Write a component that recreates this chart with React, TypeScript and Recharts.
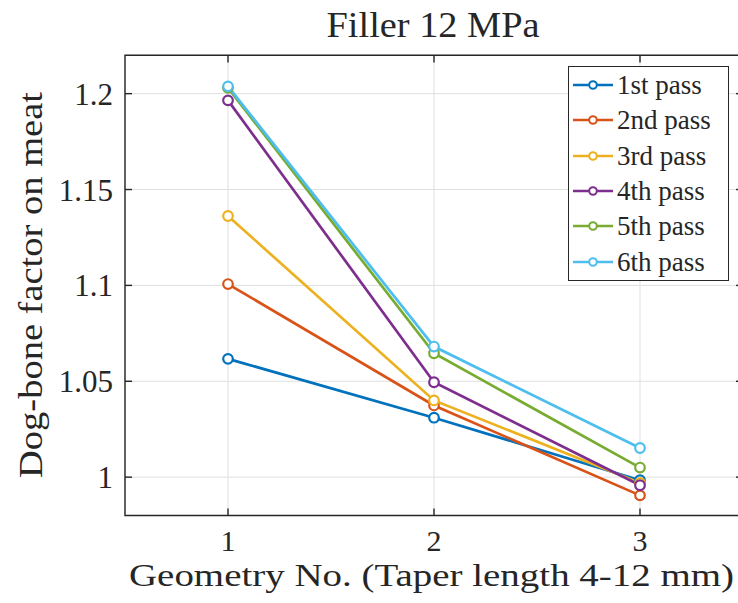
import { CartesianGrid, Line, LineChart, ReferenceArea, ReferenceLine, XAxis, YAxis } from "recharts";

const geometries = [1, 2, 3];
const passNames = ["1st pass", "2nd pass", "3rd pass", "4th pass", "5th pass", "6th pass"];
const pass1 = [1.0617, 1.031, 0.9984];
const pass2 = [1.1007, 1.0374, 0.9905];
const pass3 = [1.1362, 1.04, 0.997];
const pass4 = [1.1965, 1.0495, 0.9958];
const pass5 = [1.203, 1.0646, 1.005];
const pass6 = [1.2038, 1.0681, 1.0152];
const xTicks = [1, 2, 3];
const yTicks = [1, 1.05, 1.1, 1.15, 1.2];

const passColors = ["#0072BD", "#D95319", "#EDB120", "#7E2F8E", "#77AC30", "#4DBEEE"];
const passSeries = [pass1, pass2, pass3, pass4, pass5, pass6];

const chartData = geometries.map((geometry, index) => {
  const row: Record<string, number> = { geometry };
  passSeries.forEach((series, passIndex) => {
    row[`p${passIndex + 1}`] = series[index];
  });
  return row;
});

const xDomain: [number, number] = [0.5, 3.5];
const yDomain: [number, number] = [0.98, 1.22];
const axisColor = "#262626";
const serif = "'Liberation Serif', 'DejaVu Serif', serif";

function formatTick(value: number) {
  return String(Number(value.toFixed(2)));
}

function LegendBox() {
  return (
    <div
      style={{
        position: "absolute",
        left: 568,
        top: 66,
        width: 161,
        height: 215,
        border: `1px solid ${axisColor}`,
        background: "#fff",
        boxSizing: "border-box",
      }}
    >
      {passNames.map((name, index) => (
        <div
          key={name}
          style={{
            position: "absolute",
            left: 0,
            top: 18 + index * 35.3 - 17,
            height: 34,
            display: "flex",
            alignItems: "center",
          }}
        >
          <svg width={48} height={34} style={{ display: "block" }}>
            <line x1={4} x2={44} y1={17} y2={17} stroke={passColors[index]} strokeWidth={2.6} />
            <circle cx={24} cy={17} r={3.8} fill="#fff" stroke={passColors[index]} strokeWidth={2} />
          </svg>
          <span
            style={{
              fontFamily: serif,
              fontSize: 27,
              color: axisColor,
              lineHeight: "34px",
              whiteSpace: "nowrap",
            }}
          >
            {name}
          </span>
        </div>
      ))}
    </div>
  );
}

export default function App() {
  return (
    <div
      style={{
        position: "absolute",
        left: 0,
        top: 0,
        width: 738,
        height: 603,
        overflow: "hidden",
        background: "#fff",
      }}
    >
      <LineChart
        width={750}
        height={603}
        data={chartData}
        margin={{ top: 55.3, right: 7, bottom: 37.5, left: 0 }}
      >
        <CartesianGrid stroke="#dfdfdf" strokeWidth={1} />
        <XAxis
          dataKey="geometry"
          type="number"
          domain={xDomain}
          ticks={xTicks}
          allowDataOverflow
          axisLine={false}
          tickLine={false}
          tickSize={0}
          tickMargin={14}
          height={50}
          tick={{ fill: axisColor, fontSize: 30, fontFamily: serif }}
        />
        <YAxis
          type="number"
          domain={yDomain}
          ticks={yTicks}
          allowDataOverflow
          axisLine={false}
          tickLine={false}
          tickSize={0}
          tickMargin={12}
          width={125}
          tickFormatter={formatTick}
          tick={{ fill: axisColor, fontSize: 31, fontFamily: serif }}
        />
        <ReferenceArea
          x1={xDomain[0]}
          x2={xDomain[1]}
          y1={yDomain[0]}
          y2={yDomain[1]}
          fill="none"
          fillOpacity={0}
          stroke={axisColor}
          strokeWidth={1.4}
        />
        {xTicks.map((tick) => (
          <ReferenceLine
            key={`xb${tick}`}
            segment={[
              { x: tick, y: yDomain[0] },
              { x: tick, y: yDomain[0] + 0.0037 },
            ]}
            stroke={axisColor}
            strokeWidth={1.4}
          />
        ))}
        {xTicks.map((tick) => (
          <ReferenceLine
            key={`xt${tick}`}
            segment={[
              { x: tick, y: yDomain[1] },
              { x: tick, y: yDomain[1] - 0.0037 },
            ]}
            stroke={axisColor}
            strokeWidth={1.4}
          />
        ))}
        {yTicks.map((tick) => (
          <ReferenceLine
            key={`yl${tick}`}
            segment={[
              { x: xDomain[0], y: tick },
              { x: xDomain[0] + 0.034, y: tick },
            ]}
            stroke={axisColor}
            strokeWidth={1.4}
          />
        ))}
        {yTicks.map((tick) => (
          <ReferenceLine
            key={`yr${tick}`}
            segment={[
              { x: xDomain[1], y: tick },
              { x: xDomain[1] - 0.034, y: tick },
            ]}
            stroke={axisColor}
            strokeWidth={1.4}
          />
        ))}
        {passNames.map((name, index) => (
          <Line
            key={name}
            name={name}
            dataKey={`p${index + 1}`}
            type="linear"
            stroke={passColors[index]}
            strokeWidth={2.7}
            dot={{ r: 4.8, strokeWidth: 2.2, fill: "#fff", stroke: passColors[index] }}
            activeDot={false}
            isAnimationActive={false}
          />
        ))}
      </LineChart>

      <svg
        width={738}
        height={603}
        style={{ position: "absolute", left: 0, top: 0, pointerEvents: "none" }}
      >
        <text
          x={433}
          y={36.5}
          textAnchor="middle"
          fontFamily={serif}
          fontSize={35}
          fill={axisColor}
          textLength={213}
          lengthAdjust="spacingAndGlyphs"
        >
          Filler 12 MPa
        </text>
        <text
          x={431.5}
          y={586}
          textAnchor="middle"
          fontFamily={serif}
          fontSize={31}
          fill={axisColor}
          textLength={605}
          lengthAdjust="spacingAndGlyphs"
        >
          Geometry No. (Taper length 4-12 mm)
        </text>
        <text
          x={0}
          y={0}
          transform="translate(42 285) rotate(-90)"
          textAnchor="middle"
          fontFamily={serif}
          fontSize={33}
          fill={axisColor}
          textLength={386}
          lengthAdjust="spacingAndGlyphs"
        >
          Dog-bone factor on meat
        </text>
      </svg>

      <LegendBox />
    </div>
  );
}
